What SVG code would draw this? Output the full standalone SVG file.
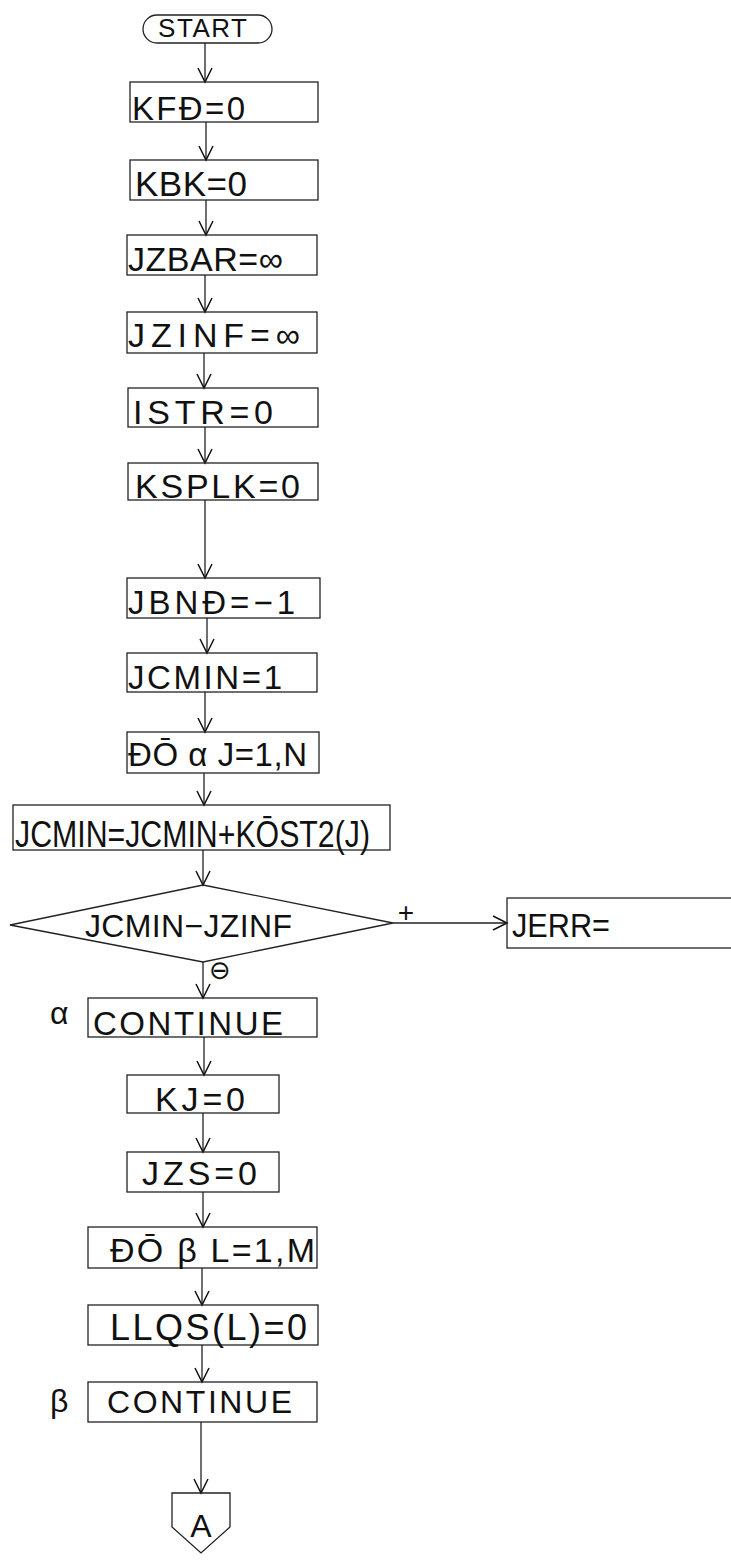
<svg xmlns="http://www.w3.org/2000/svg" width="731" height="1560" viewBox="0 0 731 1560">
<style>
.b{fill:none;stroke:#222;stroke-width:1.3}
.t{font-family:"Liberation Sans","DejaVu Sans",sans-serif;fill:#111}
.c{stroke:#222;stroke-width:1.3;fill:none}
</style>
<defs>
<marker id="ah" markerUnits="userSpaceOnUse" markerWidth="20" markerHeight="20" viewBox="-16 -10 18 20" refX="0" refY="0" orient="auto">
<path d="M-14,-7 L0,0 L-14,7" fill="none" stroke="#111" stroke-width="1.5"/>
</marker>
</defs>
<rect width="731" height="1560" fill="#fff"/>
<g id="connectors">
<line class="c" x1="205" y1="43" x2="205" y2="82" marker-end="url(#ah)"/>
<line class="c" x1="206" y1="122" x2="206" y2="160" marker-end="url(#ah)"/>
<line class="c" x1="206" y1="200" x2="206" y2="235" marker-end="url(#ah)"/>
<line class="c" x1="205" y1="275" x2="205" y2="312" marker-end="url(#ah)"/>
<line class="c" x1="204" y1="353" x2="204" y2="388" marker-end="url(#ah)"/>
<line class="c" x1="205" y1="427" x2="205" y2="463" marker-end="url(#ah)"/>
<line class="c" x1="205" y1="500" x2="205" y2="578" marker-end="url(#ah)"/>
<line class="c" x1="207" y1="618" x2="207" y2="653" marker-end="url(#ah)"/>
<line class="c" x1="205" y1="692" x2="205" y2="732" marker-end="url(#ah)"/>
<line class="c" x1="204" y1="773" x2="204" y2="805" marker-end="url(#ah)"/>
<line class="c" x1="203" y1="850" x2="203" y2="885" marker-end="url(#ah)"/>
<line class="c" x1="203" y1="962" x2="203" y2="998" marker-end="url(#ah)"/>
<line class="c" x1="204" y1="1037" x2="204" y2="1075" marker-end="url(#ah)"/>
<line class="c" x1="203" y1="1113" x2="203" y2="1152" marker-end="url(#ah)"/>
<line class="c" x1="203" y1="1192" x2="203" y2="1227" marker-end="url(#ah)"/>
<line class="c" x1="202" y1="1268" x2="202" y2="1305" marker-end="url(#ah)"/>
<line class="c" x1="202" y1="1345" x2="202" y2="1382" marker-end="url(#ah)"/>
<line class="c" x1="201" y1="1422" x2="201" y2="1493" marker-end="url(#ah)"/>
<line class="c" x1="393" y1="923" x2="507" y2="923" marker-end="url(#ah)"/>
<text class="t" x="406" y="922" font-size="28" text-anchor="middle">+</text>
<text x="220" y="979" font-family="DejaVu Sans, sans-serif" font-size="26" text-anchor="middle" fill="#111">⊖</text>
</g>
<g id="start">
<rect class="b" x="143" y="15" width="129" height="28" rx="14"/>
<text class="t" x="158" y="37" font-size="26" textLength="89" lengthAdjust="spacing">START</text>
</g>
<g id="n1">
<rect class="b" x="130" y="82" width="188" height="40"/>
<text class="t" x="132" y="120" font-size="33" textLength="113" lengthAdjust="spacing">KFĐ=0</text>
</g>
<g id="n2">
<rect class="b" x="130" y="160" width="188" height="40"/>
<text class="t" x="135" y="196" font-size="35" textLength="112" lengthAdjust="spacing">KBK=0</text>
</g>
<g id="n3">
<rect class="b" x="127" y="235" width="190" height="40"/>
<text class="t" x="128" y="271" font-size="34" textLength="155" lengthAdjust="spacing">JZBAR=∞</text>
</g>
<g id="n4">
<rect class="b" x="127" y="312" width="190" height="41"/>
<text class="t" x="128" y="347" font-size="34" textLength="172" lengthAdjust="spacing">JZINF=∞</text>
</g>
<g id="n5">
<rect class="b" x="128" y="388" width="190" height="39"/>
<text class="t" x="133" y="424" font-size="34" textLength="140" lengthAdjust="spacing">ISTR=0</text>
</g>
<g id="n6">
<rect class="b" x="128" y="463" width="190" height="37"/>
<text class="t" x="135" y="498" font-size="34" textLength="165" lengthAdjust="spacing">KSPLK=0</text>
</g>
<g id="n7">
<rect class="b" x="127" y="578" width="193" height="40"/>
<text class="t" x="128" y="614" font-size="33" textLength="167" lengthAdjust="spacing">JBNĐ=−1</text>
</g>
<g id="n8">
<rect class="b" x="127" y="653" width="190" height="39"/>
<text class="t" x="128" y="689" font-size="33" textLength="154" lengthAdjust="spacing">JCMIN=1</text>
</g>
<g id="n9">
<rect class="b" x="127" y="732" width="192" height="41"/>
<text class="t" x="128" y="766" font-size="33" textLength="179" lengthAdjust="spacing">ĐŌ α J=1,N</text>
</g>
<g id="n10">
<rect class="b" x="13" y="805" width="377" height="45"/>
<text class="t" x="15" y="847" font-size="37" textLength="355" lengthAdjust="spacingAndGlyphs">JCMIN=JCMIN+KŌST2(J)</text>
</g>
<g id="d1">
<polygon class="b" points="203,885 393,923 203,962 10,925"/>
<text class="t" x="85" y="937" font-size="32" textLength="207" lengthAdjust="spacing">JCMIN−JZINF</text>
</g>
<g id="jerr">
<rect class="b" x="507" y="898" width="240" height="50"/>
<text class="t" x="512" y="937" font-size="34" textLength="98" lengthAdjust="spacingAndGlyphs">JERR=</text>
</g>
<g id="n11">
<text class="t" x="50" y="1024" font-size="32">α</text>
<rect class="b" x="88" y="998" width="229" height="39"/>
<text class="t" x="93" y="1035" font-size="33" textLength="190" lengthAdjust="spacing">CONTINUE</text>
</g>
<g id="n12">
<rect class="b" x="127" y="1075" width="152" height="38"/>
<text class="t" x="155" y="1111" font-size="34" textLength="90" lengthAdjust="spacing">KJ=0</text>
</g>
<g id="n13">
<rect class="b" x="127" y="1152" width="152" height="40"/>
<text class="t" x="142" y="1185" font-size="34" textLength="115" lengthAdjust="spacing">JZS=0</text>
</g>
<g id="n14">
<rect class="b" x="88" y="1227" width="229" height="41"/>
<text class="t" x="110" y="1262" font-size="34" textLength="205" lengthAdjust="spacing">ĐŌ β L=1,M</text>
</g>
<g id="n15">
<rect class="b" x="88" y="1305" width="230" height="40"/>
<text class="t" x="110" y="1340" font-size="36" textLength="197" lengthAdjust="spacing">LLQS(L)=0</text>
</g>
<g id="n16">
<text class="t" x="50" y="1412" font-size="32">β</text>
<rect class="b" x="88" y="1382" width="229" height="40"/>
<text class="t" x="107" y="1413" font-size="32" textLength="185" lengthAdjust="spacing">CONTINUE</text>
</g>
<g id="connA">
<polygon class="b" points="172,1493 230,1493 230,1527 201,1553 172,1527"/>
<text class="t" x="201" y="1537" font-size="32" text-anchor="middle">A</text>
</g>
</svg>
